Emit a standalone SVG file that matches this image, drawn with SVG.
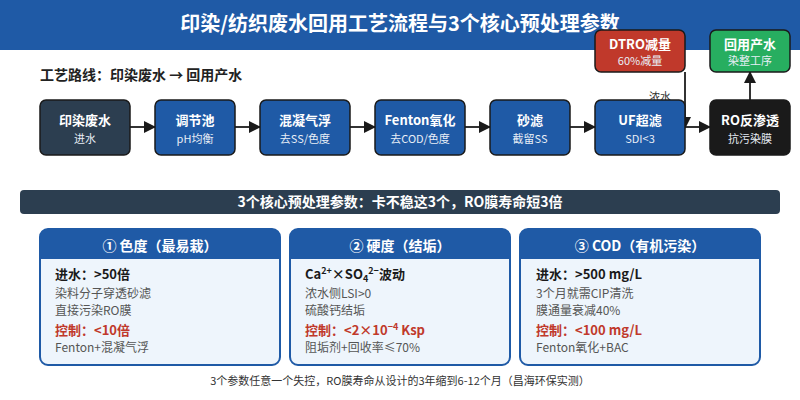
<svg xmlns="http://www.w3.org/2000/svg" width="800" height="400" viewBox="0 0 800 400">
<defs>
<marker id="ah" markerWidth="10" markerHeight="10" refX="9" refY="5" orient="auto" markerUnits="userSpaceOnUse">
<path d="M0,0 L10,5 L0,10 Z" fill="#1a1a1a"/>
</marker>
<marker id="ahb" markerWidth="12" markerHeight="12" refX="11" refY="6" orient="auto" markerUnits="userSpaceOnUse">
<path d="M0,0 L12,6 L0,12 Z" fill="#1a1a1a"/>
</marker>
</defs>
<style>
text{font-family:"Noto Sans CJK SC","Noto Sans",sans-serif}
.nt{font-size:13px;font-weight:bold;fill:#fff;text-anchor:middle}
.ns{font-size:11px;fill:#e8eef6;text-anchor:middle}
.node{stroke:#1a1a1a;stroke-width:1.5}
.blue{fill:#1f5aa6}
.conn line,.conn path{stroke:#333;stroke-width:2;fill:none}
.ch{font-size:14px;font-weight:bold;fill:#fff;text-anchor:middle}
.b1{font-size:13px;font-weight:bold;fill:#1a1a1a}
.g{font-size:12px;fill:#555}
.r{font-size:13px;font-weight:bold;fill:#c0392b}
.cardbody{fill:#eef5fc;stroke:#1f5aa6;stroke-width:2}
.cardhead{fill:#1f5aa6}
</style>
<rect width="800" height="400" fill="#fff"/>
<rect x="0" y="0" width="800" height="50" fill="#1f5aa6"/>
<text x="400" y="31" font-size="20" font-weight="bold" fill="#fff" text-anchor="middle">印染/纺织废水回用工艺流程与3个核心预处理参数</text>
<text x="40" y="80" font-size="14" font-weight="bold" fill="#222">工艺路线：印染废水 → 回用产水</text>

<g class="conn">
<line x1="130" y1="127" x2="155" y2="127" marker-end="url(#ahb)"/>
<line x1="235" y1="127" x2="260" y2="127" marker-end="url(#ahb)"/>
<line x1="350" y1="127" x2="375" y2="127" marker-end="url(#ahb)"/>
<line x1="465" y1="127" x2="490" y2="127" marker-end="url(#ahb)"/>
<line x1="570" y1="127" x2="595" y2="127" marker-end="url(#ahb)"/>
<line x1="685" y1="127" x2="710" y2="127" marker-end="url(#ahb)"/>
<line x1="685" y1="72" x2="685" y2="128" marker-end="url(#ahb)"/>
<line x1="750" y1="100" x2="750" y2="72" marker-end="url(#ahb)"/>
<text x="660" y="101" font-size="11" fill="#333" text-anchor="middle">浓水</text>
</g>

<g id="n1"><rect class="node" x="40" y="100" width="90" height="55" rx="6" fill="#2c3e50"/><text class="nt" x="85" y="125">印染废水</text><text class="ns" x="85" y="143">进水</text></g>
<g id="n2"><rect class="node blue" x="155" y="100" width="80" height="55" rx="6"/><text class="nt" x="195" y="125">调节池</text><text class="ns" x="195" y="143">pH均衡</text></g>
<g id="n3"><rect class="node blue" x="260" y="100" width="90" height="55" rx="6"/><text class="nt" x="305" y="125">混凝气浮</text><text class="ns" x="305" y="143">去SS/色度</text></g>
<g id="n4"><rect class="node blue" x="375" y="100" width="90" height="55" rx="6"/><text class="nt" x="420" y="125">Fenton氧化</text><text class="ns" x="420" y="143">去COD/色度</text></g>
<g id="n5"><rect class="node blue" x="490" y="100" width="80" height="55" rx="6"/><text class="nt" x="530" y="125">砂滤</text><text class="ns" x="530" y="143">截留SS</text></g>
<g id="n6"><rect class="node blue" x="595" y="100" width="90" height="55" rx="6"/><text class="nt" x="640" y="125">UF超滤</text><text class="ns" x="640" y="143">SDI&lt;3</text></g>
<g id="n7"><rect class="node" x="710" y="100" width="80" height="55" rx="6" fill="#1a1a1a"/><text class="nt" x="750" y="125">RO反渗透</text><text class="ns" x="750" y="143">抗污染膜</text></g>
<g id="n8"><rect class="node" x="595" y="30" width="90" height="42" rx="6" fill="#c0392b"/><text class="nt" x="640" y="49">DTRO减量</text><text class="ns" x="640" y="65">60%减量</text></g>
<g id="n9"><rect class="node" x="710" y="30" width="80" height="42" rx="6" fill="#27ae60"/><text class="nt" x="750" y="49">回用产水</text><text class="ns" x="750" y="65">染整工序</text></g>

<g id="banner"><rect x="20" y="190" width="760" height="24" rx="4" fill="#2c3e50"/><text x="400" y="207" font-size="14" font-weight="bold" fill="#fff" text-anchor="middle">3个核心预处理参数：卡不稳这3个，RO膜寿命短3倍</text></g>

<g id="card1">
<rect class="cardbody" x="40" y="229" width="240" height="136" rx="8"/>
<path class="cardhead" d="M40,259 V237 A8,8 0 0 1 48,229 H272 A8,8 0 0 1 280,237 V259 Z"/>
<text class="ch" x="160" y="251">① 色度（最易栽）</text>
<text class="b1" x="55" y="279">进水：&gt;50倍</text>
<text class="g" x="55" y="298">染料分子穿透砂滤</text>
<text class="g" x="55" y="315">直接污染RO膜</text>
<text class="r" x="55" y="335">控制：&lt;10倍</text>
<text class="g" x="55" y="352">Fenton+混凝气浮</text>
</g>
<g id="card2">
<rect class="cardbody" x="290" y="229" width="220" height="136" rx="8"/>
<path class="cardhead" d="M290,259 V237 A8,8 0 0 1 298,229 H502 A8,8 0 0 1 510,237 V259 Z"/>
<text class="ch" x="400" y="251">② 硬度（结垢）</text>
<text class="b1" x="305" y="279">Ca<tspan font-size="9" dy="-5">2+</tspan><tspan dy="5">×SO</tspan><tspan font-size="9" dy="3">4</tspan><tspan font-size="9" dy="-8">2−</tspan><tspan dy="5">波动</tspan></text>
<text class="g" x="305" y="298">浓水侧LSI&gt;0</text>
<text class="g" x="305" y="315">硫酸钙结垢</text>
<text class="r" x="305" y="335">控制：&lt;2×10<tspan font-size="9" dy="-5">−4</tspan><tspan dy="5"> Ksp</tspan></text>
<text class="g" x="305" y="352">阻垢剂+回收率≤70%</text>
</g>
<g id="card3">
<rect class="cardbody" x="520" y="229" width="240" height="136" rx="8"/>
<path class="cardhead" d="M520,259 V237 A8,8 0 0 1 528,229 H752 A8,8 0 0 1 760,237 V259 Z"/>
<text class="ch" x="640" y="251">③ COD（有机污染）</text>
<text class="b1" x="536" y="279">进水：&gt;500 mg/L</text>
<text class="g" x="536" y="298">3个月就需CIP清洗</text>
<text class="g" x="536" y="315">膜通量衰减40%</text>
<text class="r" x="536" y="335">控制：&lt;100 mg/L</text>
<text class="g" x="536" y="352">Fenton氧化+BAC</text>
</g>
<text x="400" y="385" font-size="11" fill="#333" text-anchor="middle">3个参数任意一个失控，RO膜寿命从设计的3年缩到6-12个月（昌海环保实测）</text>
</svg>
